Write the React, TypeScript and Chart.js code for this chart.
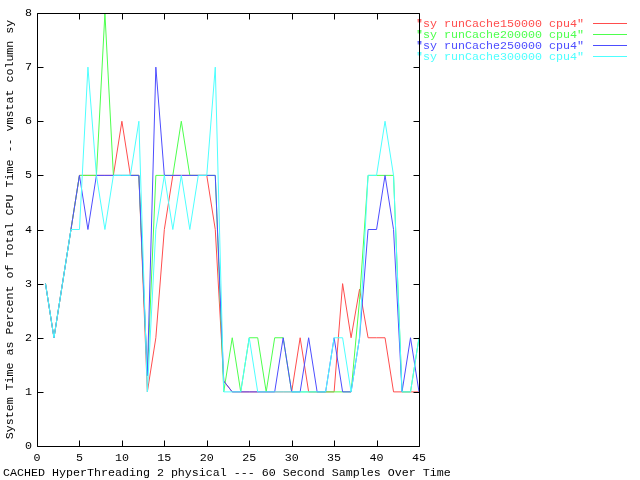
import React, { useEffect, useRef } from "react";
import { Chart, registerables } from "chart.js";

Chart.register(...registerables);

// ---- data ----
const sampleIndex = [
  1, 2, 3, 4, 5, 6, 7, 8, 9, 10, 11, 12, 13, 14, 15, 16, 17, 18, 19, 20, 21, 22, 23,
  24, 25, 26, 27, 28, 29, 30, 31, 32, 33, 34, 35, 36, 37, 38, 39, 40, 41, 42, 43, 44, 45,
];
const cache150000 = [
  3, 2, 3, 4, 5, 5, 5, 5, 5, 6, 5, 5, 1, 2, 4, 5, 5, 5, 5, 5, 4, 1.2, 1,
  1, 1, 1, 1, 1, 1, 1, 2, 1, 1, 1, 1, 3, 2, 2.9, 2, 2, 2, 1, 1, 1, 1,
];
const cache200000 = [
  3, 2, 3, 4, 5, 5, 5, 8, 5, 5, 5, 5, 1.3, 5, 5, 5, 6, 5, 5, 5, 5, 1, 2,
  1, 2, 2, 1, 2, 2, 1, 1, 1, 1, 1, 1, 1, 1, 2.7, 5, 5, 5, 5, 1, 1, 2,
];
const cache250000 = [
  3, 2, 3, 4, 5, 4, 5, 5, 5, 5, 5, 5, 1.3, 7, 5, 5, 5, 5, 5, 5, 5, 1.2, 1,
  1, 1, 1, 1, 1, 2, 1, 1, 2, 1, 1, 2, 1, 1, 2, 4, 4, 5, 4, 1, 2, 1,
];
const cache300000 = [
  3, 2, 3, 4, 4, 7, 5, 4, 5, 5, 5, 6, 1, 4, 5, 4, 5, 4, 5, 5, 7, 1, 1,
  1, 2, 1, 1, 1, 1, 1, 1, 1, 1, 1, 2, 2, 1, 2, 5, 5, 6, 5, 1, 1, 2,
];
const seriesLabels = [
  '"sy runCache150000 cpu4"',
  '"sy runCache200000 cpu4"',
  '"sy runCache250000 cpu4"',
  '"sy runCache300000 cpu4"',
];
const seriesColors = ["#ff4d4d", "#4dff4d", "#4d4dff", "#4dffff"];
const xTickValues = [0, 5, 10, 15, 20, 25, 30, 35, 40, 45];
const yTickValues = [0, 1, 2, 3, 4, 5, 6, 7, 8];
const yAxisTitle = "System Time as Percent of Total CPU Time -- vmstat column sy";
const xAxisTitle = "CACHED HyperThreading 2 physical --- 60 Second Samples Over Time";

const FONT_FAMILY = "'Liberation Mono', 'DejaVu Sans Mono', monospace";
const FONT_SIZE = 11.67;

const framePlugin = {
  id: "gnuFrame",
  afterDatasetsDraw(chart: any) {
    const { ctx, chartArea: a, scales } = chart;
    const L = Math.round(a.left) + 0.5;
    const R = Math.round(a.right) + 0.5;
    const T = Math.round(a.top) + 0.5;
    const B = Math.round(a.bottom) + 0.5;
    const TL = 6;
    ctx.save();
    ctx.strokeStyle = "#000";
    ctx.lineWidth = 1;
    ctx.beginPath();
    ctx.rect(L, T, R - L, B - T);
    for (const t of scales.x.ticks) {
      const px = Math.round(scales.x.getPixelForValue(t.value)) + 0.5;
      ctx.moveTo(px, B);
      ctx.lineTo(px, B - TL);
      ctx.moveTo(px, T);
      ctx.lineTo(px, T + TL);
    }
    for (const t of scales.y.ticks) {
      const py = Math.round(scales.y.getPixelForValue(t.value)) + 0.5;
      ctx.moveTo(L, py);
      ctx.lineTo(L + TL, py);
      ctx.moveTo(R, py);
      ctx.lineTo(R - TL, py);
    }
    ctx.stroke();

    // legend (gnuplot style: text then sample line)
    ctx.font = `${FONT_SIZE}px ${FONT_FAMILY}`;
    ctx.textBaseline = "middle";
    ctx.textAlign = "right";
    chart.data.datasets.forEach((ds: any, i: number) => {
      const y = Math.round(23 + i * 11.1) + 0.5;
      ctx.fillStyle = ds.borderColor;
      ctx.fillText(ds.label, 584, y + 0.5);
      ctx.strokeStyle = ds.borderColor;
      ctx.beginPath();
      ctx.moveTo(593, y);
      ctx.lineTo(627, y);
      ctx.stroke();
    });

    // x-axis caption
    ctx.fillStyle = "#000";
    ctx.textAlign = "left";
    ctx.fillText(chart.options.plugins.gnuFrame.xCaption, 3, 473);
    ctx.restore();
  },
};

export default function App() {
  const ref = useRef<HTMLCanvasElement | null>(null);

  useEffect(() => {
    document.body.style.margin = "0";
    const canvas = ref.current;
    if (!canvas) return;
    const series = [cache150000, cache200000, cache250000, cache300000];
    const chart = new Chart(canvas, {
      type: "line",
      data: {
        datasets: series.map((vals, i) => ({
          label: seriesLabels[i],
          data: sampleIndex.map((x, k) => ({ x, y: vals[k] })),
          borderColor: seriesColors[i],
          backgroundColor: seriesColors[i],
          borderWidth: 1,
          pointRadius: 0,
          tension: 0,
          fill: false,
          order: 3 - i,
        })),
      },
      options: {
        responsive: false,
        animation: false,
        events: [],
        layout: { padding: { left: 3, right: 221, top: 13, bottom: 0 } },
        plugins: {
          legend: { display: false },
          tooltip: { enabled: false },
          title: { display: false },
          gnuFrame: { xCaption: xAxisTitle },
        } as any,
        scales: {
          x: {
            type: "linear",
            min: 0,
            max: 45,
            afterBuildTicks: (s: any) => {
              s.ticks = xTickValues.map((v) => ({ value: v }));
            },
            afterFit: (s: any) => {
              s.height = 34;
            },
            grid: { display: false, drawTicks: false },
            border: { display: false },
            ticks: {
              color: "#000",
              padding: 5,
              maxRotation: 0,
              autoSkip: false,
              font: { family: FONT_FAMILY, size: FONT_SIZE },
            },
          },
          y: {
            type: "linear",
            min: 0,
            max: 8,
            afterBuildTicks: (s: any) => {
              s.ticks = yTickValues.map((v) => ({ value: v }));
            },
            afterFit: (s: any) => {
              s.width = 34;
            },
            grid: { display: false, drawTicks: false },
            border: { display: false },
            ticks: {
              color: "#000",
              padding: 5,
              autoSkip: false,
              font: { family: FONT_FAMILY, size: FONT_SIZE },
            },
            title: {
              display: true,
              text: yAxisTitle,
              color: "#000",
              padding: 0,
              font: { family: FONT_FAMILY, size: FONT_SIZE },
            },
          },
        },
      },
      plugins: [framePlugin],
    });
    return () => chart.destroy();
  }, []);

  return (
    <div style={{ position: "absolute", left: 0, top: 0, width: 640, height: 480, background: "#fff" }}>
      <canvas ref={ref} width={640} height={480} style={{ display: "block" }} />
    </div>
  );
}
